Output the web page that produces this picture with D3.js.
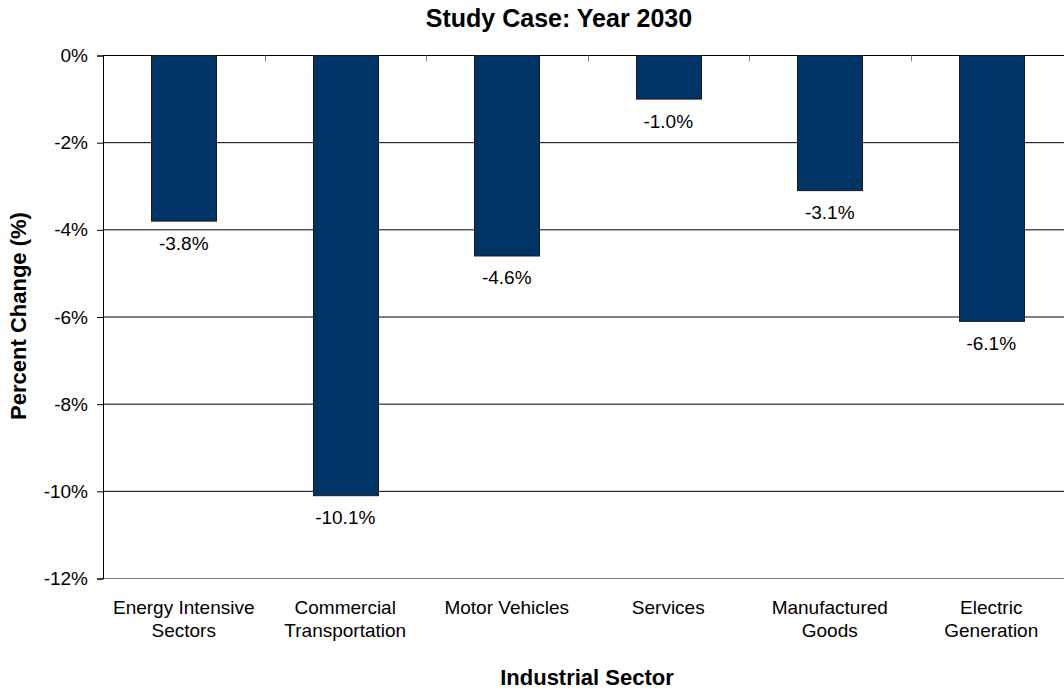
<!DOCTYPE html>
<html>
<head>
<meta charset="utf-8">
<script src="https://cdn.jsdelivr.net/npm/d3@7"></script>
<style>
  body { margin: 0; background: #fff; }
  svg { display: block; font-family: Arial, "Liberation Sans", sans-serif; }
</style>
</head>
<body>
<svg></svg>
<script>
const sectors = [
    ["Energy Intensive", "Sectors"],
    ["Commercial", "Transportation"],
    ["Motor Vehicles"],
    ["Services"],
    ["Manufactured", "Goods"],
    ["Electric", "Generation"]
];
const changes = [-3.8, -10.1, -4.6, -1.0, -3.1, -6.1];
const yTicks = [0, -2, -4, -6, -8, -10, -12];

const width = 1064;
const height = 690;
const svg = d3.select("svg")
    .attr("width", width)
    .attr("height", height);

const plotLeft = 103;
const plotRight = 1072;
const plotTop = 55.5;
const plotBottom = 578.5;

const x = d3.scaleBand()
    .domain(d3.range(sectors.length))
    .range([plotLeft, plotRight])
    .paddingInner(0.6)
    .paddingOuter(0.3);

const y = d3.scaleLinear()
    .domain([0, -12])
    .range([plotTop, plotBottom]);

// grid lines
svg.append("g")
    .selectAll("line")
    .data(yTicks)
    .enter().append("line")
    .attr("x1", plotLeft)
    .attr("x2", width)
    .attr("y1", d => y(d))
    .attr("y2", d => y(d))
    .attr("stroke", d => d === -12 ? "#808080" : "#000")
    .attr("stroke-width", 1);

// category boundary ticks hanging from the zero line
const step = x.step();
svg.append("g")
    .selectAll("line")
    .data(d3.range(1, sectors.length))
    .enter().append("line")
    .attr("x1", d => Math.round(plotLeft + d * step) + 0.5)
    .attr("x2", d => Math.round(plotLeft + d * step) + 0.5)
    .attr("y1", y(0))
    .attr("y2", y(0) + 6)
    .attr("stroke", "#808080");

// bars
svg.append("g")
    .selectAll("rect")
    .data(changes)
    .enter().append("rect")
    .attr("x", (d, i) => Math.round(x(i)) + 0.5)
    .attr("y", y(0))
    .attr("width", Math.round(x.bandwidth()))
    .attr("height", d => y(d) - y(0))
    .attr("fill", "#003366")
    .attr("stroke", "#1a1a1a")
    .attr("stroke-width", 1);

// value labels
svg.append("g")
    .selectAll("text")
    .data(changes)
    .enter().append("text")
    .attr("x", (d, i) => x(i) + x.bandwidth() / 2)
    .attr("y", d => y(d) + 28.5)
    .attr("text-anchor", "middle")
    .attr("font-size", 19)
    .attr("fill", "#000")
    .text(d => d.toFixed(1) + "%");

// y axis
const yAxis = svg.append("g")
    .attr("transform", `translate(${plotLeft},0)`)
    .call(d3.axisLeft(y)
        .tickValues(yTicks)
        .tickSize(6)
        .tickPadding(9)
        .tickFormat(d => d + "%"));
yAxis.select(".domain").attr("stroke", "#000");
yAxis.selectAll(".tick line").attr("stroke", "#000");
yAxis.selectAll(".tick text")
    .attr("font-size", 19)
    .attr("font-family", "Arial, 'Liberation Sans', sans-serif")
    .attr("fill", "#000");

// category labels
const catLabels = svg.append("g")
    .selectAll("text")
    .data(sectors)
    .enter().append("text")
    .attr("x", (d, i) => x(i) + x.bandwidth() / 2)
    .attr("y", 614)
    .attr("text-anchor", "middle")
    .attr("font-size", 19)
    .attr("fill", "#000");
catLabels.selectAll("tspan")
    .data(d => d)
    .enter().append("tspan")
    .attr("x", function() { return d3.select(this.parentNode).attr("x"); })
    .attr("dy", (d, i) => i === 0 ? 0 : 23)
    .text(d => d);

// titles
svg.append("text")
    .attr("x", 559)
    .attr("y", 27)
    .attr("text-anchor", "middle")
    .attr("font-size", 25)
    .attr("font-weight", "bold")
    .text("Study Case: Year 2030");

svg.append("text")
    .attr("x", 587)
    .attr("y", 685)
    .attr("text-anchor", "middle")
    .attr("font-size", 22)
    .attr("font-weight", "bold")
    .text("Industrial Sector");

svg.append("text")
    .attr("transform", "translate(26,316) rotate(-90)")
    .attr("text-anchor", "middle")
    .attr("font-size", 22)
    .attr("font-weight", "bold")
    .text("Percent Change (%)");
</script>
</body>
</html>
